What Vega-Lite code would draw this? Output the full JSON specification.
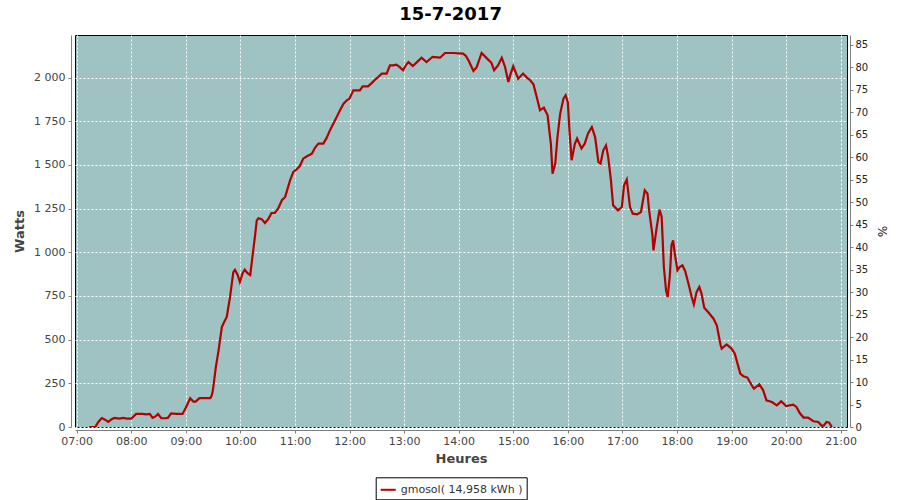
{
  "$schema": "https://vega.github.io/schema/vega-lite/v6.json",
  "width": 772,
  "height": 392,
  "autosize": {"type": "none"},
  "padding": {"left": 75, "top": 35, "right": 53, "bottom": 73},
  "background": "white",
  "title": {"text": "15-7-2017", "font": "DejaVu Sans", "fontSize": 18, "fontWeight": "bold", "color": "#000", "anchor": "middle", "frame": "bounds", "baseline": "alphabetic", "offset": -3},
  "config": {
    "view": {"fill": "#9fc3c2", "stroke": "#000", "strokeWidth": 1},
    "axis": {
      "labelFont": "DejaVu Sans", "labelFontSize": 11, "labelColor": "#444",
      "titleFont": "DejaVu Sans", "titleFontSize": 13, "titleFontWeight": "bold", "titleColor": "#444",
      "domainColor": "#808080", "tickColor": "#808080", "tickSize": 3,
      "gridColor": "#ffffff", "gridDash": [2, 2], "gridOpacity": 1, "gridWidth": 1
    }
  },
  "layer": [
    {
      "data": {"values": [
        {"h": 7.23, "w": 0}, {"h": 7.34, "w": 0}, {"h": 7.40, "w": 30}, {"h": 7.46, "w": 51}, {"h": 7.52, "w": 42},
        {"h": 7.58, "w": 29}, {"h": 7.64, "w": 45}, {"h": 7.69, "w": 52}, {"h": 7.78, "w": 48}, {"h": 7.85, "w": 52},
        {"h": 7.92, "w": 48}, {"h": 8.0, "w": 48}, {"h": 8.09, "w": 75}, {"h": 8.20, "w": 75}, {"h": 8.28, "w": 72},
        {"h": 8.34, "w": 75}, {"h": 8.39, "w": 52}, {"h": 8.45, "w": 62}, {"h": 8.49, "w": 75}, {"h": 8.55, "w": 51},
        {"h": 8.62, "w": 50}, {"h": 8.67, "w": 52}, {"h": 8.73, "w": 78}, {"h": 8.83, "w": 75}, {"h": 8.94, "w": 75},
        {"h": 9.00, "w": 110}, {"h": 9.08, "w": 165}, {"h": 9.14, "w": 145}, {"h": 9.18, "w": 145}, {"h": 9.25, "w": 165},
        {"h": 9.35, "w": 165}, {"h": 9.45, "w": 165}, {"h": 9.48, "w": 185}, {"h": 9.50, "w": 220}, {"h": 9.55, "w": 343},
        {"h": 9.60, "w": 439}, {"h": 9.66, "w": 572}, {"h": 9.70, "w": 600}, {"h": 9.75, "w": 630}, {"h": 9.81, "w": 744},
        {"h": 9.87, "w": 887}, {"h": 9.90, "w": 900}, {"h": 9.95, "w": 870}, {"h": 9.99, "w": 830}, {"h": 10.04, "w": 880},
        {"h": 10.08, "w": 900}, {"h": 10.13, "w": 880}, {"h": 10.18, "w": 870}, {"h": 10.22, "w": 973}, {"h": 10.27, "w": 1100},
        {"h": 10.30, "w": 1183}, {"h": 10.33, "w": 1195}, {"h": 10.39, "w": 1190}, {"h": 10.45, "w": 1168}, {"h": 10.51, "w": 1190},
        {"h": 10.57, "w": 1225}, {"h": 10.63, "w": 1225}, {"h": 10.69, "w": 1250}, {"h": 10.76, "w": 1298}, {"h": 10.82, "w": 1317},
        {"h": 10.91, "w": 1412}, {"h": 10.97, "w": 1460}, {"h": 11.03, "w": 1475}, {"h": 11.09, "w": 1494}, {"h": 11.15, "w": 1536},
        {"h": 11.22, "w": 1550}, {"h": 11.31, "w": 1565}, {"h": 11.37, "w": 1600}, {"h": 11.43, "w": 1622}, {"h": 11.52, "w": 1622},
        {"h": 11.58, "w": 1655}, {"h": 11.64, "w": 1698}, {"h": 11.70, "w": 1735}, {"h": 11.76, "w": 1771}, {"h": 11.82, "w": 1810},
        {"h": 11.89, "w": 1851}, {"h": 11.95, "w": 1870}, {"h": 12.0, "w": 1880}, {"h": 12.07, "w": 1927}, {"h": 12.19, "w": 1927},
        {"h": 12.24, "w": 1950}, {"h": 12.34, "w": 1950}, {"h": 12.41, "w": 1970}, {"h": 12.47, "w": 1989}, {"h": 12.53, "w": 2005},
        {"h": 12.59, "w": 2023}, {"h": 12.68, "w": 2023}, {"h": 12.74, "w": 2070}, {"h": 12.80, "w": 2070}, {"h": 12.86, "w": 2074},
        {"h": 12.92, "w": 2060}, {"h": 12.98, "w": 2042}, {"h": 13.04, "w": 2075}, {"h": 13.08, "w": 2089}, {"h": 13.16, "w": 2066},
        {"h": 13.24, "w": 2090}, {"h": 13.32, "w": 2114}, {"h": 13.41, "w": 2089}, {"h": 13.47, "w": 2105}, {"h": 13.52, "w": 2118},
        {"h": 13.66, "w": 2114}, {"h": 13.75, "w": 2141}, {"h": 13.90, "w": 2141}, {"h": 14.08, "w": 2137}, {"h": 14.13, "w": 2125},
        {"h": 14.18, "w": 2099}, {"h": 14.27, "w": 2038}, {"h": 14.33, "w": 2060}, {"h": 14.42, "w": 2141}, {"h": 14.54, "w": 2103},
        {"h": 14.60, "w": 2085}, {"h": 14.65, "w": 2042}, {"h": 14.72, "w": 2070}, {"h": 14.79, "w": 2114}, {"h": 14.85, "w": 2061},
        {"h": 14.91, "w": 1975}, {"h": 14.95, "w": 2020}, {"h": 15.0, "w": 2066}, {"h": 15.09, "w": 1994}, {"h": 15.18, "w": 2023},
        {"h": 15.25, "w": 2000}, {"h": 15.31, "w": 1985}, {"h": 15.37, "w": 1962}, {"h": 15.43, "w": 1889}, {"h": 15.49, "w": 1813},
        {"h": 15.56, "w": 1828}, {"h": 15.63, "w": 1784}, {"h": 15.66, "w": 1700}, {"h": 15.69, "w": 1620}, {"h": 15.72, "w": 1450},
        {"h": 15.77, "w": 1508}, {"h": 15.81, "w": 1660}, {"h": 15.86, "w": 1794}, {"h": 15.92, "w": 1880}, {"h": 15.96, "w": 1899},
        {"h": 16.0, "w": 1860}, {"h": 16.03, "w": 1698}, {"h": 16.07, "w": 1527}, {"h": 16.13, "w": 1622}, {"h": 16.17, "w": 1651},
        {"h": 16.25, "w": 1594}, {"h": 16.31, "w": 1622}, {"h": 16.37, "w": 1680}, {"h": 16.44, "w": 1717}, {"h": 16.50, "w": 1660},
        {"h": 16.56, "w": 1517}, {"h": 16.60, "w": 1508}, {"h": 16.65, "w": 1584}, {"h": 16.70, "w": 1612}, {"h": 16.74, "w": 1545},
        {"h": 16.79, "w": 1412}, {"h": 16.83, "w": 1269}, {"h": 16.92, "w": 1240}, {"h": 16.99, "w": 1259}, {"h": 17.03, "w": 1383},
        {"h": 17.08, "w": 1416}, {"h": 17.14, "w": 1259}, {"h": 17.19, "w": 1221}, {"h": 17.27, "w": 1217}, {"h": 17.34, "w": 1231},
        {"h": 17.41, "w": 1355}, {"h": 17.46, "w": 1336}, {"h": 17.49, "w": 1240}, {"h": 17.55, "w": 1100}, {"h": 17.57, "w": 1011},
        {"h": 17.63, "w": 1145}, {"h": 17.68, "w": 1244}, {"h": 17.72, "w": 1202}, {"h": 17.76, "w": 916}, {"h": 17.80, "w": 782},
        {"h": 17.83, "w": 744}, {"h": 17.87, "w": 868}, {"h": 17.90, "w": 1040}, {"h": 17.93, "w": 1069}, {"h": 17.96, "w": 992},
        {"h": 18.01, "w": 897}, {"h": 18.05, "w": 916}, {"h": 18.10, "w": 925}, {"h": 18.15, "w": 893}, {"h": 18.21, "w": 821},
        {"h": 18.27, "w": 744}, {"h": 18.31, "w": 702}, {"h": 18.36, "w": 773}, {"h": 18.41, "w": 801}, {"h": 18.45, "w": 764},
        {"h": 18.50, "w": 683}, {"h": 18.57, "w": 658}, {"h": 18.67, "w": 620}, {"h": 18.73, "w": 582}, {"h": 18.80, "w": 468},
        {"h": 18.82, "w": 449}, {"h": 18.91, "w": 473}, {"h": 19.0, "w": 449}, {"h": 19.06, "w": 420}, {"h": 19.11, "w": 363},
        {"h": 19.16, "w": 306}, {"h": 19.22, "w": 290}, {"h": 19.29, "w": 283}, {"h": 19.37, "w": 239}, {"h": 19.41, "w": 220},
        {"h": 19.51, "w": 244}, {"h": 19.58, "w": 210}, {"h": 19.64, "w": 153}, {"h": 19.74, "w": 143}, {"h": 19.83, "w": 124},
        {"h": 19.91, "w": 147}, {"h": 20.0, "w": 120}, {"h": 20.13, "w": 128}, {"h": 20.19, "w": 115}, {"h": 20.25, "w": 80},
        {"h": 20.32, "w": 54}, {"h": 20.40, "w": 54}, {"h": 20.50, "w": 33}, {"h": 20.59, "w": 29}, {"h": 20.65, "w": 8},
        {"h": 20.69, "w": 8}, {"h": 20.74, "w": 29}, {"h": 20.79, "w": 25}, {"h": 20.84, "w": 0}
      ]},
      "mark": {"type": "line", "strokeWidth": 2.2, "interpolate": "linear", "clip": true},
      "encoding": {
        "x": {"field": "h", "type": "quantitative",
          "scale": {"domain": [6.969, 21.116], "nice": false, "zero": false},
          "axis": {"title": "Heures", "values": [7,8,9,10,11,12,13,14,15,16,17,18,19,20,21],
            "labelExpr": "(datum.value < 10 ? '0' : '') + datum.value + ':00'",
            "offset": 3, "labelPadding": 2, "titlePadding": 6, "grid": true, "labelFlush": false, "labelOverlap": false}},
        "y": {"field": "w", "type": "quantitative",
          "scale": {"domain": [0, 2244], "nice": false},
          "axis": {"title": "Watts", "values": [0,250,500,750,1000,1250,1500,1750,2000],
            "labelExpr": "replace(format(datum.value, ','), ',', ' ')",
            "offset": 4, "labelPadding": 3, "titlePadding": 7, "grid": true}},
        "color": {"datum": "gmosol( 14,958 kWh )", "type": "nominal",
          "scale": {"range": ["#b40000"]},
          "legend": {"title": null, "orient": "none", "legendX": 300.7, "legendY": 442.3,
            "strokeColor": "#000", "fillColor": "#fff", "padding": 4,
            "symbolType": "stroke", "symbolSize": 225, "symbolStrokeWidth": 2,
            "labelFont": "DejaVu Sans", "labelFontSize": 11, "labelColor": "#333", "labelOffset": 4}}
      }
    },
    {
      "data": {"values": [{"p": 0}]},
      "mark": {"type": "point", "opacity": 0},
      "encoding": {
        "y": {"field": "p", "type": "quantitative",
          "scale": {"domain": [0, 87.2], "nice": false},
          "axis": {"orient": "right", "title": "%", "values": [0,5,10,15,20,25,30,35,40,45,50,55,60,65,70,75,80,85],
            "offset": 3, "labelPadding": 2, "titlePadding": 7, "grid": false,
            "labelFontSize": 10, "labelColor": "#222", "titleFontWeight": "normal", "titleFontSize": 12, "titleColor": "#222"}}
      }
    }
  ],
  "resolve": {"scale": {"y": "independent"}, "axis": {"y": "independent"}}
}
